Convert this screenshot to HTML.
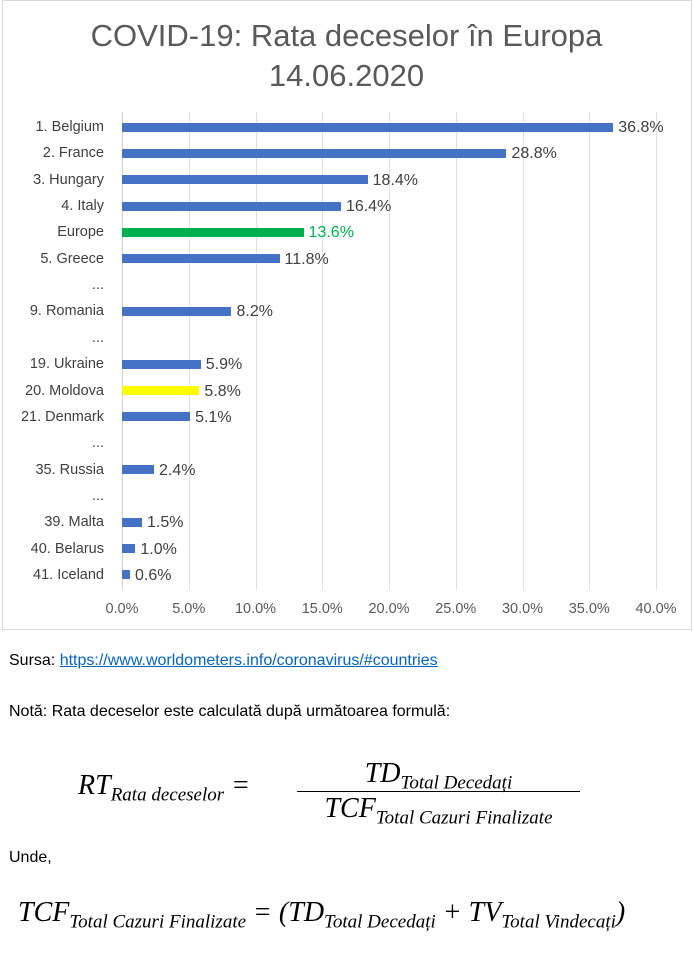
<!DOCTYPE html>
<html><head><meta charset="utf-8"><style>
body{margin:0;width:693px;height:960px;background:#fff;font-family:"Liberation Sans",sans-serif;position:relative;overflow:hidden}
.box{position:absolute;left:2px;top:0;width:688px;height:628px;border:1px solid #d9d9d9}
.t{position:absolute;white-space:nowrap}
.lab{position:absolute;right:589px;font-size:14.5px;color:#404040;white-space:nowrap}
.val{position:absolute;font-size:16px;color:#404040;white-space:nowrap}
.bar{position:absolute;height:9px;background:#4472c4;left:122px}
.grid{position:absolute;top:112px;height:478px;width:1px;background:#e0e0e0}
.tick{position:absolute;top:601px;font-size:14.5px;color:#595959;width:60px;text-align:center}
.m{font-family:"Liberation Serif",serif;font-style:italic}
.m sub{font-size:19px}
</style></head><body>
<div class="box"></div>
<div class="t" style="left:0;width:693px;text-align:center;top:16px;font-size:31px;color:#595959;line-height:40px">COVID-19: Rata deceselor în Europa<br>14.06.2020</div>
<div id="c"></div>
<script>
var d=[["1. Belgium",36.8],["2. France",28.8],["3. Hungary",18.4],["4. Italy",16.4],["Europe",13.6,"g"],["5. Greece",11.8],["...",null],["9. Romania",8.2],["...",null],["19. Ukraine",5.9],["20. Moldova",5.8,"y"],["21. Denmark",5.1],["...",null],["35. Russia",2.4],["...",null],["39. Malta",1.5],["40. Belarus",1.0],["41. Iceland",0.6]];
var h="",s=13.35;
for(var i=0;i<=8;i++){var x=122+i*5*s;if(i>0)h+='<div class="grid" style="left:'+x+'px"></div>';h+='<div class="tick" style="left:'+(x-30)+'px">'+(i*5).toFixed(1)+'%</div>';}
h+='<div class="grid" style="left:122px;background:#d0d0d0"></div>';
d.forEach(function(r,i){var y=127+i*26.35;h+='<div class="lab" style="top:'+(y-8)+'px">'+r[0]+'</div>';
if(r[1]!=null){var w=r[1]*s,c=r[2]=="g"?"#00b050":r[2]=="y"?"#ffff00":"#4472c4";
h+='<div class="bar" style="top:'+(y-4.5)+'px;width:'+w+'px;background:'+c+'"></div>';
h+='<div class="val" style="top:'+(y-8)+'px;left:'+(122+w+5)+'px;'+(r[2]=="g"?"color:#00b050":"")+'">'+r[1].toFixed(1)+'%</div>';}});
document.getElementById("c").innerHTML=h;
</script>
<div class="t" style="left:9px;top:652px;font-size:16px;color:#000">Sursa: <span style="color:#0563c1;text-decoration:underline">https://www.worldometers.info/coronavirus/#countries</span></div>
<div class="t" style="left:9px;top:703px;font-size:16px;color:#000">Notă: Rata deceselor este calculată după următoarea formulă:</div>
<div class="t m" style="left:78px;top:770px;font-size:28px">RT<sub>Rata deceselor</sub> =</div>
<div class="t m" style="left:297px;top:757px;width:283px;border-bottom:1.5px solid #000;text-align:center;font-size:28px;line-height:34px;height:34px">TD<sub>Total Decedați</sub></div>
<div class="t m" style="left:297px;top:793px;width:283px;text-align:center;font-size:28px">TCF<sub>Total Cazuri Finalizate</sub></div>
<div class="t" style="left:9px;top:849px;font-size:16px;color:#000">Unde,</div>
<div class="t m" style="left:18px;top:897px;font-size:28px">TCF<sub>Total Cazuri Finalizate</sub> = (TD<sub>Total Decedați</sub> + TV<sub>Total Vindecați</sub>)</div>
</body></html>
